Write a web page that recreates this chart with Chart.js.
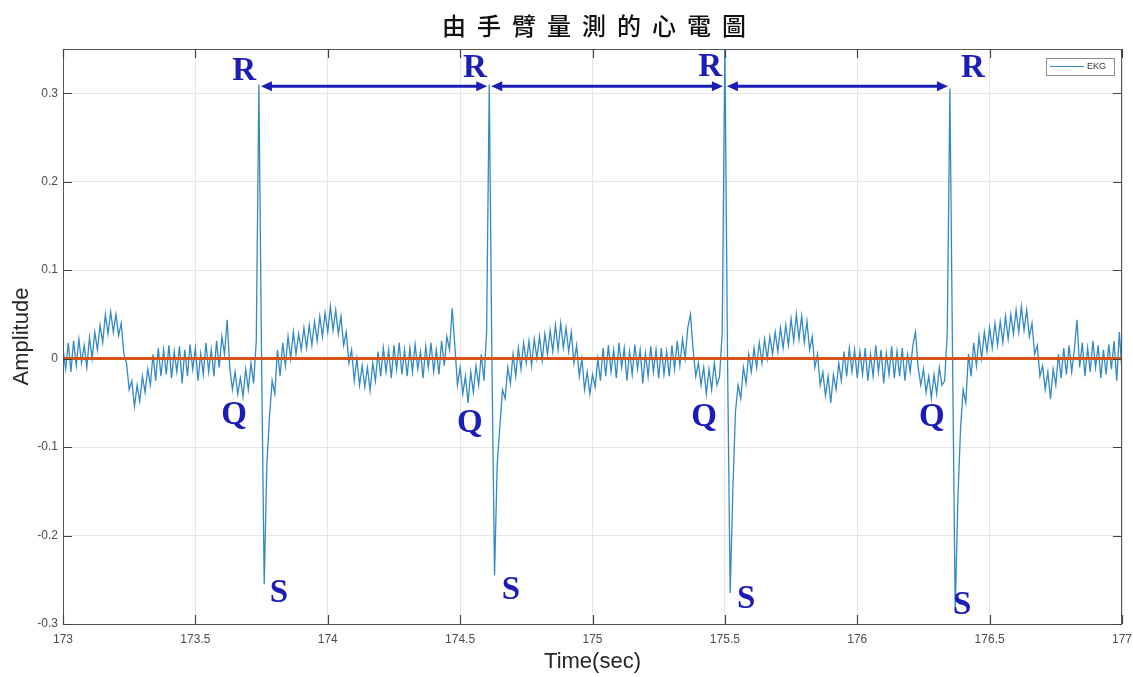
<html>
<head>
<meta charset="utf-8">
<style>
  body { margin: 0; background: #fff; }
  #wrap { width: 1133px; height: 677px; }
</style>
</head>
<body>
<div id="wrap"><canvas id="ekg" width="1133" height="677"></canvas></div>
<script src="https://cdn.jsdelivr.net/npm/chart.js@4.4.0/dist/chart.umd.min.js"></script>
<script>
// sampled every 10 ms, one array per second of recording
var tStart = 173.0;
var tStep = 0.01;
var ekg173 = [
  0.012,-0.012,0.018,-0.015,0.02,-0.008,0.022,-0.005,0.015,-0.01,
  0.024,0.0,0.03,0.01,0.038,0.018,0.05,0.028,0.053,0.03,
  0.05,0.026,0.04,0.005,-0.005,-0.035,-0.025,-0.054,-0.03,-0.048,
  -0.02,-0.038,-0.012,-0.03,0.005,-0.025,0.012,-0.02,0.01,-0.018,
  0.015,-0.022,0.008,-0.015,0.014,-0.028,0.01,-0.02,0.016,-0.012,
  0.012,-0.025,0.006,-0.018,0.018,-0.015,0.01,-0.02,0.02,-0.01,
  0.025,0.005,0.044,-0.01,-0.035,-0.015,-0.04,-0.022,-0.043,-0.012,
  -0.035,-0.005,-0.028,0.02,0.31,0.0,-0.255,-0.12,-0.065,-0.025,
  -0.04,0.01,-0.02,0.018,-0.008,0.025,0.0,0.03,0.005,0.028,
  0.01,0.035,0.012,0.038,0.015,0.042,0.02,0.048,0.025,0.052
];
var ekg174 = [
  0.03,0.059,0.032,0.055,0.028,0.048,0.015,0.03,-0.005,0.01,
  -0.025,0.0,-0.03,-0.008,-0.032,-0.01,-0.036,-0.005,-0.025,0.008,
  -0.02,0.012,-0.015,0.01,-0.022,0.015,-0.012,0.018,-0.018,0.01,
  -0.02,0.012,-0.015,0.016,-0.012,0.008,-0.022,0.014,-0.01,0.018,
  -0.015,0.01,-0.018,0.02,-0.008,0.025,0.01,0.057,0.015,-0.03,
  -0.01,-0.04,-0.02,-0.05,-0.015,-0.038,-0.008,-0.03,0.005,-0.025,
  0.03,0.31,0.0,-0.245,-0.12,-0.077,-0.035,-0.045,-0.01,-0.028,
  0.005,-0.02,0.012,-0.012,0.018,-0.005,0.02,-0.008,0.022,0.0,
  0.025,-0.002,0.028,0.005,0.032,0.008,0.038,0.01,0.04,0.012,
  0.035,0.008,0.03,-0.005,0.015,-0.02,0.0,-0.035,-0.015,-0.04
];
var ekg175 = [
  -0.018,-0.032,0.0,-0.025,0.012,-0.02,0.015,-0.015,0.01,-0.022,
  0.018,-0.01,0.012,-0.025,0.008,-0.018,0.016,-0.012,0.01,-0.028,
  0.006,-0.02,0.014,-0.015,0.01,-0.022,0.012,-0.018,0.008,-0.02,
  0.015,-0.012,0.02,-0.008,0.022,0.0,0.035,0.05,0.01,-0.02,
  -0.005,-0.03,-0.01,-0.04,-0.012,-0.035,-0.005,-0.03,-0.02,0.03,
  0.355,0.0,-0.265,-0.15,-0.06,-0.03,-0.045,-0.01,-0.028,0.005,
  -0.015,0.012,-0.01,0.018,-0.005,0.022,0.0,0.025,0.005,0.03,
  0.008,0.035,0.012,0.038,0.015,0.045,0.02,0.05,0.022,0.048,
  0.018,0.042,0.01,0.025,-0.01,0.005,-0.03,-0.015,-0.042,-0.02,
  -0.05,-0.018,-0.035,-0.005,-0.025,0.008,-0.02,0.012,-0.015,0.01
];
var ekg176 = [
  -0.022,0.008,-0.018,0.012,-0.025,0.005,-0.02,0.015,-0.015,0.01,
  -0.028,0.006,-0.018,0.014,-0.022,0.008,-0.02,0.012,-0.025,0.005,
  -0.015,0.015,0.03,-0.01,-0.03,-0.012,-0.038,-0.02,-0.045,-0.018,
  -0.04,-0.01,-0.03,-0.025,0.03,0.305,0.0,-0.285,-0.16,-0.08,
  -0.035,-0.05,0.005,-0.02,0.018,-0.008,0.025,0.0,0.03,0.008,
  0.035,0.012,0.04,0.015,0.042,0.018,0.048,0.022,0.05,0.028,
  0.055,0.03,0.059,0.032,0.055,0.025,0.04,0.005,0.015,-0.02,
  -0.008,-0.035,-0.015,-0.046,-0.012,-0.03,0.005,-0.022,0.012,-0.018,
  0.015,-0.015,0.01,0.044,-0.01,0.018,-0.02,0.012,-0.015,0.02,
  -0.01,0.015,-0.022,0.01,-0.018,0.016,-0.012,0.02,-0.025,0.03,
  -0.015
];
var zeroTimes = [173, 177];
var zeroValues = [0, 0];

var xRange = [173, 177];
var yRange = [-0.3, 0.35];
var xTickValues = [173, 173.5, 174, 174.5, 175, 175.5, 176, 176.5, 177];
var yTickValues = [-0.3, -0.2, -0.1, 0, 0.1, 0.2, 0.3];
var xTickLabels = ['173', '173.5', '174', '174.5', '175', '175.5', '176', '176.5', '177'];
var yTickLabels = ['-0.3', '-0.2', '-0.1', '0', '0.1', '0.2', '0.3'];

// annotation letters, placed in data units
var labelText  = ['R','R','R','R','Q','Q','Q','Q','S','S','S','S'];
var labelTime  = [173.684,174.556,175.444,176.437, 173.646,174.537,175.421,176.282, 173.816,174.692,175.58,176.396];
var labelValue = [0.327,0.331,0.332,0.331, -0.062,-0.07,-0.064,-0.064, -0.263,-0.259,-0.27,-0.276];
var arrowLevel = 0.308;

var titleText = '由手臂量測的心電圖';
var seriesName = 'EKG';

var ekgColor = '#3389c4';
var zeroColor = '#d95319';
var markColor = '#1c1cb6';

var ekgValues = ekg173.concat(ekg174, ekg175, ekg176);
var ekgPoints = ekgValues.map(function (v, i) {
  return { x: +(tStart + i * tStep).toFixed(2), y: v };
});
var zeroPoints = zeroTimes.map(function (t, i) { return { x: t, y: zeroValues[i] }; });

// R peaks = local maxima above 0.2
var rPeaks = ekgPoints.filter(function (p, i) {
  return p.y > 0.2 && p.y >= ekgPoints[i - 1].y && p.y >= ekgPoints[i + 1].y;
});

function arrowHead(ctx, x, y, dir) {
  ctx.beginPath();
  ctx.moveTo(x, y);
  ctx.lineTo(x - dir * 11, y - 5);
  ctx.lineTo(x - dir * 11, y + 5);
  ctx.closePath();
  ctx.fill();
}

var decor = {
  id: 'decor',
  afterDatasetsDraw: function (chart) {
    var ctx = chart.ctx, xs = chart.scales.x, ys = chart.scales.y;
    ctx.save();
    // arrows between R peaks
    ctx.strokeStyle = markColor;
    ctx.fillStyle = markColor;
    ctx.lineWidth = 3;
    var ay = ys.getPixelForValue(arrowLevel);
    for (var i = 0; i < rPeaks.length - 1; i++) {
      var x1 = xs.getPixelForValue(rPeaks[i].x) + 2;
      var x2 = xs.getPixelForValue(rPeaks[i + 1].x) - 2;
      ctx.beginPath();
      ctx.moveTo(x1 + 8, ay);
      ctx.lineTo(x2 - 8, ay);
      ctx.stroke();
      arrowHead(ctx, x1, ay, -1);
      arrowHead(ctx, x2, ay, 1);
    }
    // R / Q / S letters
    ctx.font = 'bold 33px "Liberation Serif", "DejaVu Serif", serif';
    ctx.textAlign = 'center';
    ctx.textBaseline = 'alphabetic';
    for (var j = 0; j < labelText.length; j++) {
      ctx.fillText(labelText[j], xs.getPixelForValue(labelTime[j]), ys.getPixelForValue(labelValue[j]) + 11);
    }
    ctx.restore();
  },
  afterDraw: function (chart) {
    var ctx = chart.ctx, a = chart.chartArea, xs = chart.scales.x, ys = chart.scales.y;
    ctx.save();
    // frame and inward ticks, matlab style
    ctx.strokeStyle = '#555';
    ctx.lineWidth = 1;
    ctx.strokeRect(a.left + 0.5, a.top + 0.5, a.right - a.left - 1, a.bottom - a.top);
    ctx.strokeStyle = '#444';
    ctx.lineWidth = 1.2;
    ctx.beginPath();
    xs.ticks.forEach(function (t) {
      var px = Math.round(xs.getPixelForValue(t.value)) + 0.5;
      ctx.moveTo(px, a.bottom); ctx.lineTo(px, a.bottom - 9);
      ctx.moveTo(px, a.top); ctx.lineTo(px, a.top + 9);
    });
    ys.ticks.forEach(function (t) {
      var py = Math.round(ys.getPixelForValue(t.value)) + 0.5;
      ctx.moveTo(a.left, py); ctx.lineTo(a.left + 9, py);
      ctx.moveTo(a.right, py); ctx.lineTo(a.right - 9, py);
    });
    ctx.stroke();

    // title, wide spaced
    ctx.fillStyle = '#111';
    ctx.font = '500 24px "Noto Sans CJK TC", "Noto Sans CJK SC", sans-serif';
    ctx.textAlign = 'center';
    ctx.textBaseline = 'middle';
    var chars = Array.from(titleText);
    var mid = (chars.length - 1) / 2;
    chars.forEach(function (c, i) {
      ctx.fillText(c, 594 + (i - mid) * 35, 26);
    });

    // legend box
    var lx = a.right - 76, ly = a.top + 9;
    ctx.fillStyle = '#fff';
    ctx.fillRect(lx, ly, 68, 17);
    ctx.strokeStyle = '#8c8c8c';
    ctx.lineWidth = 1;
    ctx.strokeRect(lx + 0.5, ly + 0.5, 68, 17);
    ctx.strokeStyle = ekgColor;
    ctx.beginPath();
    ctx.moveTo(lx + 4, ly + 8.5);
    ctx.lineTo(lx + 38, ly + 8.5);
    ctx.stroke();
    ctx.fillStyle = '#333';
    ctx.font = '9px "Liberation Sans", Arial, sans-serif';
    ctx.textAlign = 'left';
    ctx.fillText(seriesName, lx + 41, ly + 9);
    ctx.restore();
  }
};

var tickFont = { family: '"Liberation Sans", Arial, sans-serif', size: 12 };
var titleFont = { family: '"Liberation Sans", Arial, sans-serif', size: 22 };

function fixedTicks(values) {
  return function (scale) {
    scale.ticks = values.map(function (v) { return { value: v }; });
  };
}

new Chart(document.getElementById('ekg'), {
  type: 'line',
  data: {
    datasets: [
      { label: 'zero', data: zeroPoints, borderColor: zeroColor, borderWidth: 3, pointRadius: 0, order: 1 },
      { label: seriesName, data: ekgPoints, borderColor: ekgColor, borderWidth: 1.3, pointRadius: 0, tension: 0, order: 2 }
    ]
  },
  options: {
    responsive: false,
    animation: false,
    devicePixelRatio: 1,
    layout: { padding: { top: 49, right: 11, left: 0, bottom: 0 } },
    plugins: { legend: { display: false }, tooltip: { enabled: false }, title: { display: false } },
    scales: {
      x: {
        type: 'linear',
        min: xRange[0], max: xRange[1],
        afterBuildTicks: fixedTicks(xTickValues),
        // keep the end labels from pushing the plot inwards
        afterFit: function (s) { s.height = 53; s.paddingLeft = 0; s.paddingRight = 0; },
        grid: { color: '#e6e6e6', drawTicks: false },
        border: { display: false },
        ticks: {
          padding: 8, color: '#4d4d4d', font: tickFont, maxRotation: 0, autoSkip: false,
          callback: function (v, i) { return xTickLabels[i]; }
        },
        title: { display: true, text: 'Time(sec)', color: '#262626', font: titleFont, padding: { top: 0, bottom: 2 } }
      },
      y: {
        min: yRange[0], max: yRange[1],
        afterBuildTicks: fixedTicks(yTickValues),
        afterFit: function (s) { s.width = 63; },
        grid: { color: '#e6e6e6', drawTicks: false },
        border: { display: false },
        ticks: {
          padding: 5, color: '#4d4d4d', font: tickFont, autoSkip: false,
          callback: function (v, i) { return yTickLabels[i]; }
        },
        title: { display: true, text: 'Amplitude', color: '#262626', font: titleFont, padding: { top: 9, bottom: 0 } }
      }
    }
  },
  plugins: [decor]
});
</script>
</body>
</html>
